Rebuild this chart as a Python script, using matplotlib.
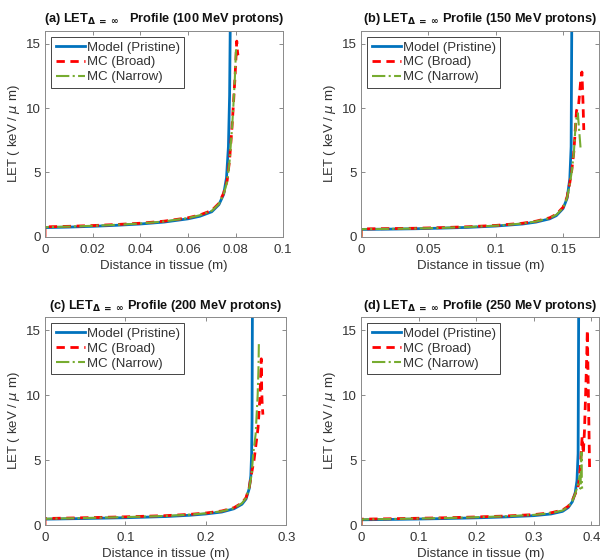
import matplotlib
matplotlib.use('Agg')
import matplotlib.pyplot as plt

plt.rcParams['font.family'] = ['Liberation Sans', 'DejaVu Sans']
plt.rcParams['mathtext.fontset'] = 'dejavusans'

# (a) 100 MeV
a_model_x = [0, 0.01, 0.02, 0.03, 0.04, 0.05, 0.06, 0.065, 0.07, 0.073, 0.075, 0.0762, 0.077, 0.0775, 0.0778]
a_model_y = [0.72, 0.76, 0.82, 0.9, 1.0, 1.15, 1.4, 1.6, 1.95, 2.5, 3.3, 4.6, 7.0, 11.0, 17.0]
a_broad_x = [0, 0, 0.01, 0.02, 0.03, 0.04, 0.05, 0.06, 0.065, 0.07, 0.073, 0.075, 0.0765, 0.0775, 0.0785, 0.079, 0.0798, 0.0805, 0.0808, 0.081]
a_broad_y = [0, 0.78, 0.82, 0.88, 0.96, 1.06, 1.22, 1.48, 1.7, 2.05, 2.6, 3.4, 4.4, 6.0, 8.5, 10.0, 12.5, 15.2, 14.4, 14.1]
a_narrow_x = [0, 0, 0.01, 0.02, 0.03, 0.04, 0.05, 0.06, 0.065, 0.07, 0.073, 0.075, 0.0765, 0.0775, 0.0785, 0.079, 0.0797, 0.0802]
a_narrow_y = [0, 0.76, 0.8, 0.86, 0.94, 1.04, 1.2, 1.46, 1.68, 2.02, 2.55, 3.3, 4.3, 5.9, 8.4, 9.9, 12.3, 14.6]

# (b) 150 MeV
b_model_x = [0, 0.02, 0.04, 0.06, 0.08, 0.1, 0.12, 0.13, 0.14, 0.145, 0.15, 0.153, 0.155, 0.156, 0.1565]
b_model_y = [0.58, 0.6, 0.63, 0.68, 0.74, 0.84, 1.0, 1.15, 1.4, 1.65, 2.2, 3.0, 4.5, 7.0, 17.0]
b_broad_x = [0, 0, 0.02, 0.04, 0.06, 0.08, 0.1, 0.12, 0.13, 0.14, 0.145, 0.15, 0.153, 0.155, 0.1565, 0.158, 0.16, 0.1615, 0.163, 0.164, 0.1648, 0.1654]
b_broad_y = [0, 0.62, 0.64, 0.67, 0.72, 0.79, 0.89, 1.06, 1.22, 1.48, 1.75, 2.3, 3.1, 4.2, 5.2, 6.6, 9.8, 10.2, 12.0, 12.8, 10.5, 8.3]
b_narrow_x = [0, 0, 0.02, 0.04, 0.06, 0.08, 0.1, 0.12, 0.13, 0.14, 0.145, 0.15, 0.153, 0.155, 0.1565, 0.158, 0.1595, 0.161, 0.162, 0.163]
b_narrow_y = [0, 0.6, 0.62, 0.65, 0.7, 0.77, 0.87, 1.04, 1.2, 1.46, 1.72, 2.25, 3.05, 4.1, 5.1, 6.5, 9.0, 9.6, 8.2, 6.9]

# (c) 200 MeV
c_model_x = [0, 0.05, 0.1, 0.15, 0.18, 0.2, 0.22, 0.235, 0.245, 0.25, 0.254, 0.256, 0.257, 0.2575, 0.258]
c_model_y = [0.45, 0.5, 0.56, 0.65, 0.75, 0.85, 1.0, 1.25, 1.6, 2.0, 2.8, 3.8, 5.5, 8.0, 17.0]
c_broad_x = [0, 0, 0.05, 0.1, 0.15, 0.18, 0.2, 0.22, 0.235, 0.245, 0.25, 0.254, 0.257, 0.26, 0.262, 0.265, 0.267, 0.268, 0.269, 0.2695, 0.27, 0.271]
c_broad_y = [0, 0.5, 0.56, 0.63, 0.72, 0.82, 0.92, 1.08, 1.33, 1.7, 2.1, 2.9, 4.0, 5.0, 6.0, 7.5, 9.5, 11.0, 12.8, 10.5, 9.5, 8.5]
c_narrow_x = [0, 0, 0.05, 0.1, 0.15, 0.18, 0.2, 0.22, 0.235, 0.245, 0.25, 0.254, 0.257, 0.259, 0.262, 0.2645, 0.2655, 0.266]
c_narrow_y = [0, 0.48, 0.54, 0.61, 0.7, 0.8, 0.9, 1.06, 1.3, 1.68, 2.08, 2.85, 3.9, 5.5, 7.0, 10.0, 12.0, 14.0]

# (d) 250 MeV
d_model_x = [0, 0.05, 0.1, 0.15, 0.2, 0.25, 0.3, 0.33, 0.35, 0.36, 0.367, 0.372, 0.375, 0.377, 0.378]
d_model_y = [0.4, 0.43, 0.46, 0.5, 0.55, 0.62, 0.72, 0.85, 1.05, 1.35, 1.8, 2.5, 3.4, 5.5, 17.0]
d_broad_x = [0, 0, 0.05, 0.1, 0.15, 0.2, 0.25, 0.3, 0.33, 0.35, 0.36, 0.367, 0.372, 0.376, 0.378, 0.381, 0.384, 0.386, 0.388, 0.39, 0.392, 0.393, 0.3945, 0.396, 0.397]
d_broad_y = [0, 0.45, 0.48, 0.52, 0.56, 0.62, 0.69, 0.8, 0.94, 1.15, 1.45, 1.9, 2.4, 2.8, 3.2, 4.5, 6.8, 5.5, 7.2, 10.0, 13.0, 15.0, 11.0, 7.0, 4.2]
d_narrow_x = [0, 0, 0.05, 0.1, 0.15, 0.2, 0.25, 0.3, 0.33, 0.35, 0.36, 0.367, 0.372, 0.376, 0.38, 0.381, 0.382, 0.383, 0.3835, 0.384]
d_narrow_y = [0, 0.43, 0.46, 0.5, 0.54, 0.6, 0.67, 0.78, 0.92, 1.12, 1.42, 1.85, 2.4, 3.0, 3.8, 2.8, 4.5, 5.6, 3.2, 2.8]

titles = ['(a) LET$_{\\mathbf{\\Delta\\ =\\ \\infty}}$   Profile (100 MeV protons)',
          '(b) LET$_{\\mathbf{\\Delta\\ =\\ \\infty}}$ Profile (150 MeV protons)',
          '(c) LET$_{\\mathbf{\\Delta\\ =\\ \\infty}}$ Profile (200 MeV protons)',
          '(d) LET$_{\\mathbf{\\Delta\\ =\\ \\infty}}$ Profile (250 MeV protons)']
xlims = [0.1, 0.177, 0.3, 0.414]
xticks = [[0, 0.02, 0.04, 0.06, 0.08, 0.1], [0, 0.05, 0.1, 0.15],
          [0, 0.1, 0.2, 0.3], [0, 0.1, 0.2, 0.3, 0.4]]
xticklabels = [['0', '0.02', '0.04', '0.06', '0.08', '0.1'], ['0', '0.05', '0.1', '0.15'],
               ['0', '0.1', '0.2', '0.3'], ['0', '0.1', '0.2', '0.3', '0.4']]
model = [(a_model_x, a_model_y), (b_model_x, b_model_y), (c_model_x, c_model_y), (d_model_x, d_model_y)]
broad = [(a_broad_x, a_broad_y), (b_broad_x, b_broad_y), (c_broad_x, c_broad_y), (d_broad_x, d_broad_y)]
narrow = [(a_narrow_x, a_narrow_y), (b_narrow_x, b_narrow_y), (c_narrow_x, c_narrow_y), (d_narrow_x, d_narrow_y)]

positions = [[0.075, 0.577, 0.397, 0.368], [0.602, 0.577, 0.397, 0.368],
             [0.075, 0.0625, 0.402, 0.371], [0.602, 0.0625, 0.397, 0.371]]

txt = '#333333'
fig = plt.figure(figsize=(6, 5.6), dpi=100)
for i in range(4):
    ax = fig.add_axes(positions[i])
    ax.plot(*model[i], color='#0072BD', lw=2, label='Model (Pristine)')
    ax.plot(*broad[i], color='#FF0000', lw=2, ls='--', dashes=(3, 2), label='MC (Broad)')
    ax.plot(*narrow[i], color='#77AC30', lw=1.5, ls='-.', label='MC (Narrow)')
    ax.set_xlim(0, xlims[i])
    ax.set_ylim(0, 16)
    ax.set_xticks(xticks[i])
    ax.set_xticklabels(xticklabels[i])
    ax.set_yticks([0, 5, 10, 15])
    ax.tick_params(direction='in', top=True, right=True, length=3, width=0.6,
                   labelsize=9.5, colors=txt, color='#777777')
    ax.tick_params(axis='x', pad=5)
    ax.tick_params(axis='y', pad=3)
    for s in ax.spines.values():
        s.set_color('#8a8a8a')
        s.set_linewidth(0.7)
    ax.set_xlabel('Distance in tissue (m)', fontsize=9.5, color=txt, labelpad=3)
    ax.set_ylabel('LET ( keV / $\\mu$ m)', fontsize=9.5, color=txt, labelpad=3)
    ax.set_title(titles[i], fontsize=9.2, fontweight='bold', color='#111111', pad=6)
    leg = ax.legend(loc='upper left', fontsize=9.5, handlelength=2.2, handletextpad=0.15,
                    borderpad=0.35, labelspacing=0.2, borderaxespad=0.45, fancybox=False,
                    framealpha=1)
    leg.get_frame().set_edgecolor('#444444')
    leg.get_frame().set_linewidth(0.7)
    for t in leg.get_texts():
        t.set_color(txt)

fig.savefig('out.png', dpi=100)
